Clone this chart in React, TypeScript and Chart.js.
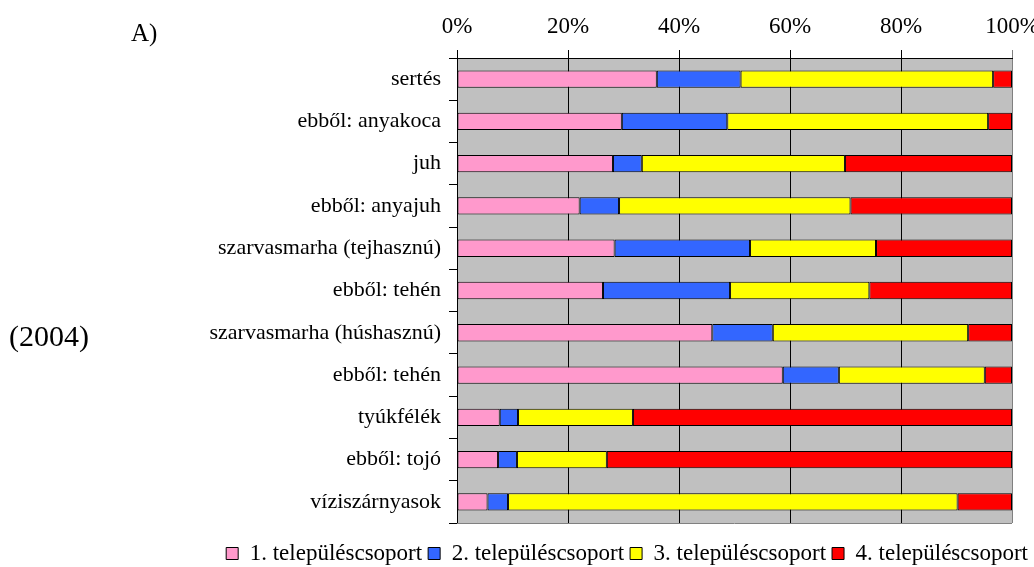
import React, { useEffect, useRef } from 'react';
import { Chart, registerables } from 'chart.js';

Chart.register(...registerables);

const categories = [
  'sertés',
  'ebből: anyakoca',
  'juh',
  'ebből: anyajuh',
  'szarvasmarha (tejhasznú)',
  'ebből: tehén',
  'szarvasmarha (húshasznú)',
  'ebből: tehén',
  'tyúkfélék',
  'ebből: tojó',
  'víziszárnyasok',
];

const seriesNames = [
  '1. településcsoport',
  '2. településcsoport',
  '3. településcsoport',
  '4. településcsoport',
];

const group1 = [36.0, 29.7, 28.1, 22.1, 28.4, 26.3, 46.0, 58.7, 7.7, 7.4, 5.5];
const group2 = [15.1, 19.0, 5.2, 7.1, 24.4, 22.9, 10.9, 10.1, 3.3, 3.4, 3.7];
const group3 = [45.5, 47.0, 36.6, 41.7, 22.7, 25.1, 35.2, 26.3, 20.7, 16.2, 81.0];
const group4 = [3.4, 4.3, 30.1, 29.1, 24.5, 25.7, 7.9, 4.9, 68.3, 73.0, 9.8];

const xTickValues = [0, 20, 40, 60, 80, 100];
const xTickLabels = ['0%', '20%', '40%', '60%', '80%', '100%'];

const colors = ['#FF99CC', '#3366FF', '#FFFF00', '#FF0000'];

const FONT = "'Liberation Serif', 'Times New Roman', serif";

const plotBg = {
  id: 'plotBg',
  afterLayout(chart: any) {
    const lg = chart.legend;
    if (lg) {
      lg.top += 13;
      lg.bottom += 13;
    }
  },
  beforeDraw(chart: any) {
    const { ctx, chartArea } = chart;
    if (!chartArea) return;
    const { left, top, right, bottom } = chartArea;
    ctx.save();
    ctx.fillStyle = '#C0C0C0';
    ctx.fillRect(left, top, right - left, bottom - top);
    ctx.restore();
  },
  afterDraw(chart: any) {
    const { ctx, chartArea } = chart;
    const { left, right, bottom } = chartArea;
    ctx.save();
    ctx.strokeStyle = '#808080';
    ctx.lineWidth = 1;
    ctx.beginPath();
    ctx.moveTo(left, Math.round(bottom) + 0.5);
    ctx.lineTo(right, Math.round(bottom) + 0.5);
    ctx.stroke();
    ctx.restore();
  },
};

export default function App() {
  const ref = useRef<HTMLCanvasElement | null>(null);

  useEffect(() => {
    if (!ref.current) return;
    Chart.defaults.font.family = FONT;
    Chart.defaults.color = '#000';
    const data = [group1, group2, group3, group4];
    const chart = new Chart(ref.current, {
      type: 'bar',
      data: {
        labels: categories,
        datasets: seriesNames.map((name, i) => ({
          label: name,
          data: data[i],
          backgroundColor: colors[i],
          borderColor: '#000',
          borderWidth: 1,
          borderSkipped: false,
          categoryPercentage: 1,
          barPercentage: 0.41,
        })),
      },
      options: {
        indexAxis: 'y',
        responsive: true,
        maintainAspectRatio: false,
        animation: false,
        layout: { padding: { left: 0, right: 0, top: 0, bottom: 5 } },
        plugins: {
          legend: {
            position: 'bottom',
            align: 'end',
            labels: {
              boxWidth: 12,
              boxHeight: 12,
              padding: 6,
              color: '#000',
              font: { size: 23, family: FONT },
            },
          },
          tooltip: { enabled: false },
        },
        scales: {
          x: {
            position: 'top',
            stacked: true,
            min: 0,
            max: 100,
            afterBuildTicks: (s: any) => {
              s.ticks = xTickValues.map((v) => ({ value: v }));
            },
            ticks: {
              callback: (v: any) => xTickLabels[xTickValues.indexOf(Number(v))] ?? '',
              font: { size: 23, family: FONT },
              color: '#000',
              padding: 9,
              maxRotation: 0,
            },
            grid: {
              color: (c: any) => (c.tick && c.tick.value === 100 ? '#808080' : '#000'),
              tickLength: 8,
              lineWidth: 1,
            },
            border: { color: '#000' },
            afterFit: (s: any) => {
              s.height = 58;
              s.paddingLeft = 0;
              s.paddingRight = 22;
            },
          },
          y: {
            stacked: true,
            grid: {
              offset: true,
              drawOnChartArea: false,
              tickLength: 8,
              color: '#000',
            },
            border: { color: '#000' },
            ticks: {
              font: { size: 22, family: FONT },
              color: '#000',
              padding: 8,
            },
            afterFit: (s: any) => {
              s.width = 457;
              s.paddingTop = 0;
              s.paddingBottom = 0;
            },
          },
        },
      },
      plugins: [plotBg],
    } as any);
    return () => chart.destroy();
  }, []);

  return (
    <div style={{ position: 'fixed', left: 0, top: 0, width: 1034, height: 567, background: '#fff' }}>
      <canvas ref={ref} />
      <span
        style={{
          position: 'absolute',
          left: 131,
          top: 20,
          fontFamily: FONT,
          fontSize: 25,
          lineHeight: 1,
          color: '#000',
          whiteSpace: 'nowrap',
        }}
      >
        A)
      </span>
      <span
        style={{
          position: 'absolute',
          left: 9,
          top: 321,
          fontFamily: FONT,
          fontSize: 30,
          lineHeight: 1,
          color: '#000',
          whiteSpace: 'nowrap',
        }}
      >
        (2004)
      </span>
    </div>
  );
}
